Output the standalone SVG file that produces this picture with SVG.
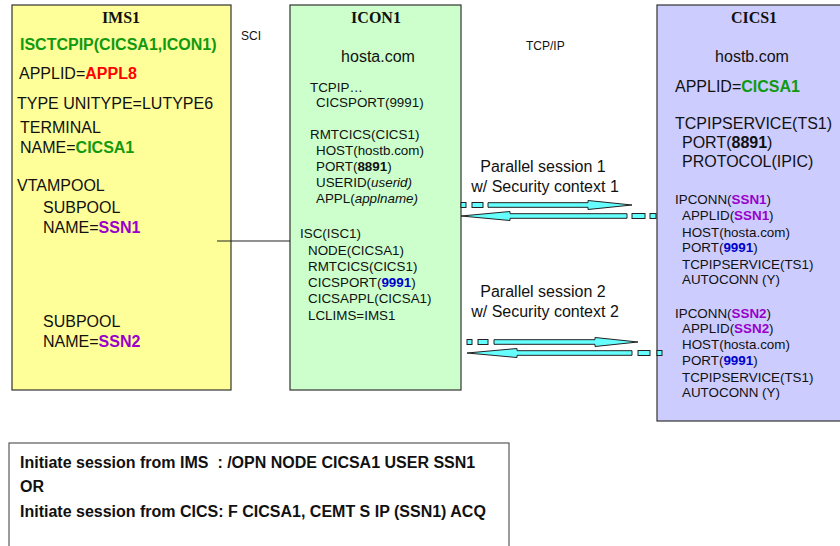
<svg xmlns="http://www.w3.org/2000/svg" width="840" height="546" viewBox="0 0 840 546">
<style>
text{font-family:"Liberation Sans",Arial,sans-serif;fill:#111}
.t{font-family:"Liberation Serif","Times New Roman",serif;font-weight:bold;font-size:16px;text-anchor:middle}
.l{font-size:16px}
.s{font-size:13.4px}
.m{font-size:12px}
.p{font-size:16px;text-anchor:middle}
.b{font-weight:bold}
.g{fill:#119911;font-weight:bold}
.r{fill:#ff0000;font-weight:bold}
.v{fill:#9900cc;font-weight:bold}
.u{fill:#0000cc;font-weight:bold}
.i{font-style:italic}
.box{stroke:#333;stroke-width:1.2}
.a{fill:#66ffff;stroke:#222;stroke-width:1}
.f{font-size:16px;font-weight:bold;white-space:pre}
</style>
<rect width="840" height="546" fill="#fff"/>
<g id="ims1">
<rect class="box" x="12" y="5" width="219" height="385" fill="#ffff99"/>
<text class="t" x="121" y="23">IMS1</text>
<text class="l g" x="20" y="50">ISCTCPIP(CICSA1,ICON1)</text>
<text class="l" x="19" y="79">APPLID=<tspan class="r">APPL8</tspan></text>
<text class="l" x="17" y="109">TYPE UNITYPE=LUTYPE6</text>
<text class="l" x="20" y="133">TERMINAL</text>
<text class="l" x="20" y="153">NAME=<tspan class="g">CICSA1</tspan></text>
<text class="l" x="17" y="191">VTAMPOOL</text>
<text class="l" x="43" y="213">SUBPOOL</text>
<text class="l" x="43" y="233">NAME=<tspan class="v">SSN1</tspan></text>
<text class="l" x="43" y="327">SUBPOOL</text>
<text class="l" x="43" y="347">NAME=<tspan class="v">SSN2</tspan></text>
</g>
<g id="icon1">
<rect class="box" x="290" y="5" width="171" height="385" fill="#ccffcc"/>
<text class="t" x="376" y="23">ICON1</text>
<text class="l" x="378" y="62" text-anchor="middle">hosta.com</text>
<text class="s" x="310" y="92">TCPIP…</text>
<text class="s" x="316" y="107">CICSPORT(9991)</text>
<text class="s" x="310" y="139">RMTCICS(CICS1)</text>
<text class="s" x="316" y="155">HOST(hostb.com)</text>
<text class="s" x="316" y="171">PORT(<tspan class="b">8891</tspan>)</text>
<text class="s" x="316" y="187">USERID(<tspan class="i">userid)</tspan></text>
<text class="s" x="316" y="203">APPL(<tspan class="i">applname)</tspan></text>
<text class="s" x="300" y="238">ISC(ISC1)</text>
<text class="s" x="308" y="255">NODE(CICSA1)</text>
<text class="s" x="308" y="271">RMTCICS(CICS1)</text>
<text class="s" x="308" y="287">CICSPORT(<tspan class="u">9991</tspan>)</text>
<text class="s" x="308" y="303">CICSAPPL(CICSA1)</text>
<text class="s" x="308" y="320">LCLIMS=IMS1</text>
</g>
<g id="cics1">
<rect class="box" x="657" y="5" width="190" height="416" fill="#ccccff"/>
<text class="t" x="754" y="23">CICS1</text>
<text class="l" x="752" y="62" text-anchor="middle">hostb.com</text>
<text class="l" x="675" y="92">APPLID=<tspan class="g">CICSA1</tspan></text>
<text class="l" x="675" y="129">TCPIPSERVICE(TS1)</text>
<text class="l" x="682" y="148">PORT(<tspan class="b">8891</tspan>)</text>
<text class="l" x="682" y="167">PROTOCOL(IPIC)</text>
<text class="s" x="675" y="204">IPCONN(<tspan class="v">SSN1</tspan>)</text>
<text class="s" x="682" y="220">APPLID(<tspan class="v">SSN1</tspan>)</text>
<text class="s" x="682" y="237">HOST(hosta.com)</text>
<text class="s" x="682" y="252">PORT(<tspan class="u">9991</tspan>)</text>
<text class="s" x="682" y="269">TCPIPSERVICE(TS1)</text>
<text class="s" x="682" y="284">AUTOCONN (Y)</text>
<text class="s" x="675" y="318">IPCONN(<tspan class="v">SSN2</tspan>)</text>
<text class="s" x="682" y="333">APPLID(<tspan class="v">SSN2</tspan>)</text>
<text class="s" x="682" y="349">HOST(hosta.com)</text>
<text class="s" x="682" y="365">PORT(<tspan class="u">9991</tspan>)</text>
<text class="s" x="682" y="382">TCPIPSERVICE(TS1)</text>
<text class="s" x="682" y="397">AUTOCONN (Y)</text>
</g>
<g id="labels">
<text class="m" x="241" y="40">SCI</text>
<text class="m" x="526" y="50">TCP/IP</text>
<text class="p" x="543" y="172">Parallel session 1</text>
<text class="p" x="545" y="192">w/ Security context 1</text>
<text class="p" x="543" y="297">Parallel session 2</text>
<text class="p" x="545" y="317">w/ Security context 2</text>
</g>
<g id="connectors">
<line x1="217" y1="241" x2="290" y2="241" stroke="#222" stroke-width="1"/>
<rect class="a" x="461" y="202.5" width="5" height="5"/>
<rect class="a" x="472" y="202.5" width="11" height="5"/>
<polygon class="a" points="488,202.7 588,202.7 588,200.5 632,205 588,209.5 588,207.3 488,207.3"/>
<polygon class="a" points="461,216 510,211.5 510,213.7 627,213.7 627,218.3 510,218.3 510,220.5"/>
<rect class="a" x="632" y="213.5" width="13" height="5"/>
<rect class="a" x="650" y="213.5" width="6" height="5"/>
<rect class="a" x="467" y="339.5" width="5" height="5"/>
<rect class="a" x="478" y="339.5" width="10" height="5"/>
<polygon class="a" points="494,339.7 595,339.7 595,337.5 638,342 595,346.5 595,344.3 494,344.3"/>
<polygon class="a" points="467,353 517,348.5 517,350.7 632,350.7 632,355.3 517,355.3 517,357.5"/>
<rect class="a" x="638" y="350.5" width="12" height="5"/>
<rect class="a" x="657" y="350.5" width="5" height="5"/>
</g>
<g id="note">
<rect x="9" y="443" width="500" height="120" fill="#fff" stroke="#666" stroke-width="1.3"/>
<text class="f" x="20" y="468">Initiate session from IMS  : /OPN NODE CICSA1 USER SSN1</text>
<text class="f" x="20" y="492">OR</text>
<text class="f" x="20" y="517">Initiate session from CICS: F CICSA1, CEMT S IP (SSN1) ACQ</text>
</g>
</svg>
